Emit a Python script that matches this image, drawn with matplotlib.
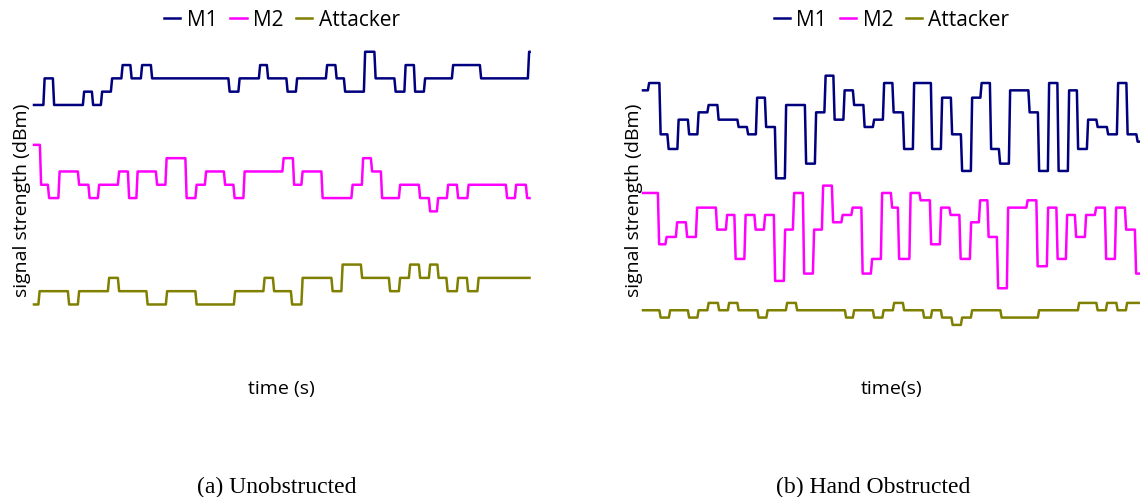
import numpy as np
import matplotlib.pyplot as plt

plt.rcParams['font.family'] = ['Open Sans', 'DejaVu Sans']

# ---------------------------------------------------------
# (a) Unobstructed  -- change times (s) and RSSI levels (dBm)
# ---------------------------------------------------------
a_end = 99.1
a_m1_t = [2.0, 3.9, 9.9, 11.7, 13.5, 15.5, 17.6, 19.4, 21.5, 23.5, 39.0, 41.0,
          45.1, 46.7, 50.6, 52.5, 58.5, 60.4, 62.1, 66.1, 68.2, 72.2, 74.2,
          76.1, 78.1, 83.7, 89.3, 98.9]
a_m1_v = [-44, -42, -44, -43, -44, -43, -42, -41, -42, -41, -42, -43, -42, -41,
          -42, -43, -42, -41, -42, -43, -40, -42, -43, -41, -43, -42, -41, -42,
          -40]

a_m2_t = [1.3, 2.9, 5.0, 8.9, 11.0, 12.9, 16.9, 18.9, 20.6, 24.5, 26.4, 30.4,
          32.4, 34.3, 38.1, 40.0, 42.0, 49.8, 51.9, 53.6, 57.6, 63.6, 65.7, 67.5,
          69.5, 73.1, 77.1, 79.1, 80.7, 82.7, 84.7, 86.8, 94.5, 96.3, 98.5]
a_m2_v = [-47, -50, -51, -49, -50, -51, -50, -49, -51, -49, -50, -48, -51, -50,
          -49, -50, -51, -49, -48, -50, -49, -51, -50, -48, -49, -51, -50, -51,
          -52, -51, -50, -51, -50, -51, -50, -51]

a_att_t = [1.0, 6.9, 8.9, 14.9, 16.9, 22.6, 26.5, 32.4, 40.1, 46.0, 47.9, 51.5,
           53.6, 59.6, 61.6, 65.5, 71.1, 73.1, 75.1, 77.1, 79.1, 80.8, 82.6,
           84.7, 86.7, 88.8]
a_att_v = [-59, -58, -59, -58, -57, -58, -59, -58, -59, -58, -57, -58, -59, -57,
           -58, -56, -57, -58, -57, -56, -57, -56, -57, -58, -57, -58, -57]

# ---------------------------------------------------------
# (b) Hand Obstructed
# ---------------------------------------------------------
b_end = 99.4
b_m1_t = [1.1, 3.4, 5.0, 7.0, 9.1, 11.0, 13.0, 15.0, 19.0, 20.9, 22.7, 24.5,
          26.5, 28.5, 32.5, 34.5, 36.4, 38.2, 40.2, 42.1, 44.2, 46.1, 48.1, 50.0,
          52.1, 54.1, 57.7, 59.7, 61.7, 63.7, 65.7, 67.6, 69.5, 71.3, 73.3, 77.2,
          79.1, 81.1, 83.0, 85.1, 86.9, 88.9, 90.8, 92.9, 94.9, 96.8, 98.8]
b_m1_v = [-32, -31, -38, -40, -36, -38, -35, -34, -36, -37, -38, -33, -37, -44,
          -34, -42, -35, -30, -36, -32, -34, -37, -36, -31, -35, -40, -31, -40,
          -33, -38, -43, -33, -31, -40, -42, -32, -35, -43, -31, -43, -32, -40,
          -36, -37, -38, -31, -38, -39]

b_m2_t = [3.1, 4.6, 6.7, 8.7, 10.7, 14.7, 16.7, 18.4, 20.4, 22.4, 24.3, 26.3,
          28.3, 30.1, 32.1, 34.1, 35.9, 37.9, 39.8, 41.8, 43.8, 45.7, 47.7, 49.7,
          51.1, 53.4, 55.4, 57.5, 59.5, 61.4, 63.4, 65.5, 67.3, 69.0, 70.9, 72.9,
          76.8, 78.8, 80.9, 82.8, 84.7, 86.5, 88.5, 90.5, 92.5, 94.5, 96.5, 98.5]
b_m2_v = [-46, -53, -52, -50, -52, -48, -51, -49, -55, -49, -51, -49, -58, -51,
          -46, -57, -51, -45, -50, -49, -48, -57, -55, -46, -48, -55, -46, -47,
          -53, -48, -49, -55, -50, -47, -52, -59, -48, -47, -56, -48, -55, -49,
          -52, -49, -48, -55, -48, -51, -57]

b_att_t = [3.4, 5.3, 9.1, 11.0, 13.0, 15.1, 17.1, 19.0, 23.0, 24.8, 28.7, 30.7,
           40.5, 42.1, 46.1, 48.0, 50.1, 52.1, 56.1, 57.7, 59.7, 61.8, 63.7,
           65.7, 71.6, 79.1, 87.1, 90.8, 92.7, 94.8, 96.7]
b_att_v = [-62, -63, -62, -63, -62, -61, -62, -61, -62, -63, -62, -61, -62, -63,
           -62, -63, -62, -61, -62, -63, -62, -63, -64, -63, -62, -63, -62, -61,
           -62, -61, -62, -61]

names = ['M1', 'M2', 'Attacker']
colors = ['#00007f', '#ff00ff', '#7f7f00']


def step_line(t_change, levels, t_end, w=0.25):
    # RSSI log: level held between samples, short ramp at every change
    xs, ys = [0.0], [levels[0]]
    for tc, v0, v1 in zip(t_change, levels[:-1], levels[1:]):
        xs += [tc - w / 2, tc + w / 2]
        ys += [v0, v1]
    xs.append(t_end)
    ys.append(levels[-1])
    return np.array(xs), np.array(ys)


W, H = 1140, 497
fig = plt.figure(figsize=(W / 100, H / 100), dpi=100)

panels = [
    dict(pos=[34, 35, 495.5, 330], ylim=(-63.55, -38.74), end=a_end,
         series=[(a_m1_t, a_m1_v), (a_m2_t, a_m2_v), (a_att_t, a_att_v)],
         xlabel='time (s)', caption='(a) Unobstructed', cap_x=277, ylx=-12),
    dict(pos=[643, 35, 497, 330], ylim=(-69.47, -24.45), end=b_end,
         series=[(b_m1_t, b_m1_v), (b_m2_t, b_m2_v), (b_att_t, b_att_v)],
         xlabel='time(s)', caption='(b) Hand Obstructed', cap_x=873, ylx=-9),
]

for p in panels:
    x0, y0, w, h = p['pos']
    ax = fig.add_axes([x0 / W, 1 - (y0 + h) / H, w / W, h / H])
    for (t, v), name, c in zip(p['series'], names, colors):
        xs, ys = step_line(t, v, p['end'])
        ax.plot(xs, ys, color=c, lw=1.8, label=name, clip_on=False)
    ax.set_xlim(0, p['end'])
    ax.set_ylim(*p['ylim'])
    ax.set_xticks([])
    ax.set_yticks([])
    for s in ax.spines.values():
        s.set_visible(False)
    ax.patch.set_visible(False)

    ax.set_xlabel(p['xlabel'], fontsize=14, va='center')
    ax.xaxis.set_label_coords(0.5, -24 / h)
    ax.set_ylabel('signal strength (dBm)', fontsize=14, va='center')
    ax.yaxis.set_label_coords(p['ylx'] / w, 0.5)

    ax.legend(loc='center', bbox_to_anchor=(0.5, 1 + 15 / h), ncol=3,
              frameon=False, fontsize=15, handlelength=0.8, handletextpad=0.3,
              columnspacing=0.6, borderaxespad=0)

    fig.text(p['cap_x'] / W, 1 - 487 / H, p['caption'], ha='center', va='center',
             fontsize=17, family=['Liberation Serif', 'DejaVu Serif'])

fig.savefig('out.png', dpi=100)
